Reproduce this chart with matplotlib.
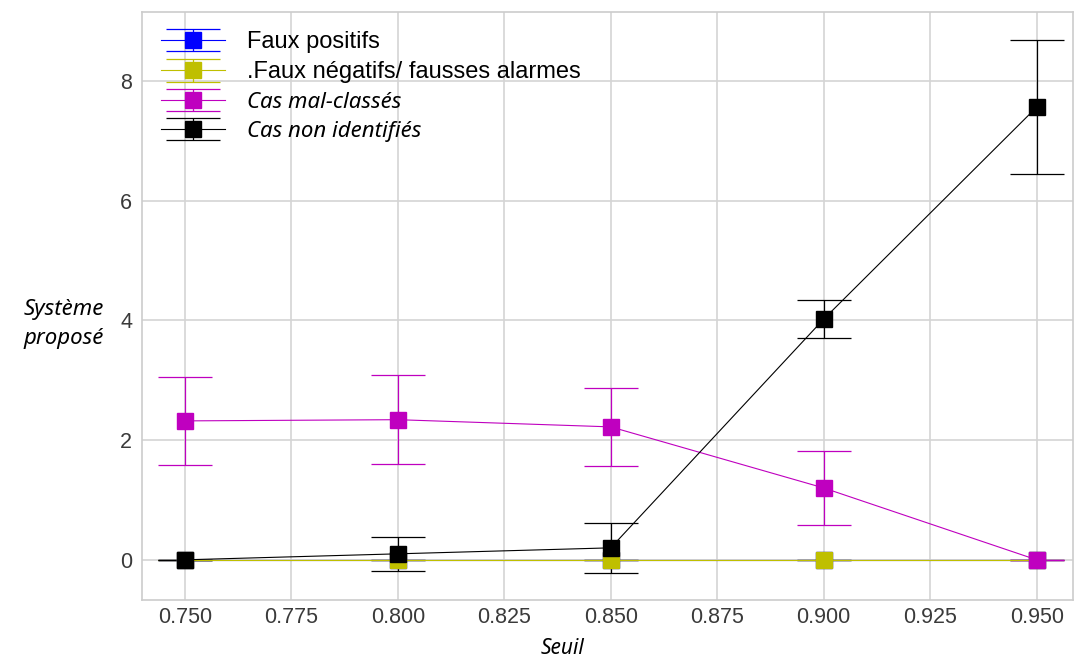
import matplotlib
matplotlib.use("Agg")
import matplotlib.pyplot as plt

seuils = [0.75, 0.80, 0.85, 0.90, 0.95]
faux_positifs = [0, 0, 0, 0, 0]
faux_positifs_err = [0, 0, 0, 0, 0]
faux_negatifs = [0, 0, 0, 0, 0]
faux_negatifs_err = [0, 0, 0, 0, 0]
mal_classes = [2.32, 2.34, 2.22, 1.20, 0.0]
mal_classes_err = [0.73, 0.74, 0.65, 0.62, 0.0]
non_identifies = [0.0, 0.10, 0.20, 4.02, 7.56]
non_identifies_err = [0.0, 0.28, 0.42, 0.32, 1.12]

labels = ["Faux positifs", ".Faux négatifs/ fausses alarmes",
          "Cas mal-classés", "Cas non identifiés"]
colors = ["b", "y", "m", "k"]

fig = plt.figure(figsize=(10.74, 6.6), dpi=100)
ax = fig.add_axes([0.132, 0.091, 0.867, 0.891])

series = [(faux_positifs, faux_positifs_err), (faux_negatifs, faux_negatifs_err),
          (mal_classes, mal_classes_err), (non_identifies, non_identifies_err)]
for (vals, errs), c, lab in zip(series, colors, labels):
    ax.errorbar(seuils, vals, yerr=errs, color=c, marker="s", markersize=11.5,
                linewidth=0.8, elinewidth=0.9, capsize=19.5, capthick=0.9,
                label=lab)

ax.set_xlim(0.7399, 0.9585)
ax.set_ylim(-0.67, 9.15)
ax.set_xticks([0.75, 0.775, 0.8, 0.825, 0.85, 0.875, 0.9, 0.925, 0.95])
ax.set_xticklabels(["0.750", "0.775", "0.800", "0.825", "0.850", "0.875",
                    "0.900", "0.925", "0.950"])
ax.set_yticks([0, 2, 4, 6, 8])
ax.grid(True, color="#d4d4d4", linewidth=1.2)
ax.set_axisbelow(True)
for s in ax.spines.values():
    s.set_color("#cccccc")
    s.set_linewidth(1.2)
ax.tick_params(length=0, labelsize=15.5, colors="#3a3a3a", pad=7)
ax.tick_params(axis="x", pad=5)
for t in ax.get_xticklabels() + ax.get_yticklabels():
    t.set_family("Liberation Sans")

ax.set_xlabel("Seuil", fontsize=15, style="italic", family="Noto Sans")
ax.xaxis.set_label_coords(0.452, -0.082)
ax.xaxis.label.set_va("center")
ax.set_ylabel("Système\nproposé", fontsize=16, style="italic",
              family="Noto Sans", rotation=0, ha="center", va="center",
              linespacing=1.5)
ax.yaxis.set_label_coords(-0.084, 0.47)

leg = ax.legend(loc="upper left", frameon=False, fontsize=16,
                handlelength=2.9, handletextpad=1.0, borderaxespad=0.25,
                labelspacing=0.38, borderpad=0.6,
                bbox_to_anchor=(0.0, 1.0))
for i, t in enumerate(leg.get_texts()):
    if i < 2:
        t.set_family("Liberation Sans")
        t.set_fontsize(17)
    else:
        t.set_family("Noto Sans")
        t.set_style("italic")

fig.savefig("out.png", dpi=100)
